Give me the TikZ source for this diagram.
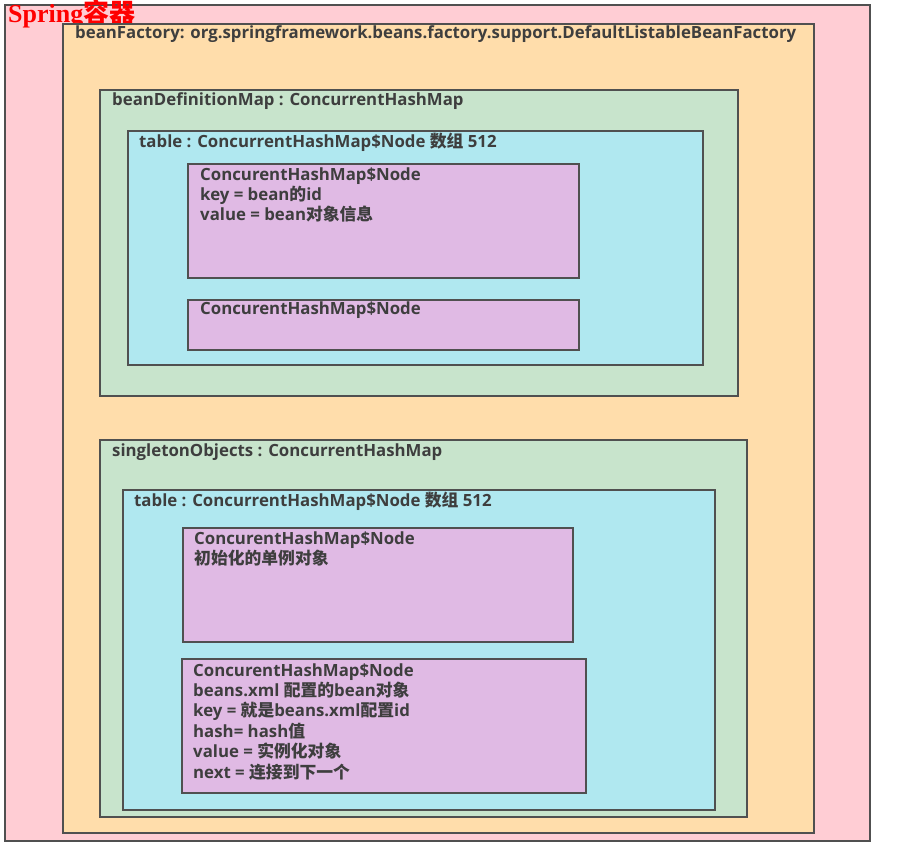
\documentclass[tikz,border=0pt]{standalone}
\usepackage{fontspec}
\setmainfont{Open Sans}
\newfontfamily\cnfont{Noto Sans CJK SC}
\newfontfamily\titlefont{Liberation Serif}
\newcommand{\cn}[1]{{\cnfont #1}}
\usetikzlibrary{positioning}
\definecolor{springpink}{RGB}{255,205,212}
\definecolor{factoryorange}{RGB}{255,221,171}
\definecolor{mapgreen}{RGB}{200,228,204}
\definecolor{tablecyan}{RGB}{176,232,240}
\definecolor{entrypurple}{RGB}{224,186,228}
\definecolor{edgegray}{RGB}{80,80,80}
\definecolor{textgray}{RGB}{62,62,62}
\tikzset{
	box/.style={draw=edgegray, line width=1.8pt, anchor=north west, inner sep=0pt},
	springbox/.style={box, fill=springpink},
	factorybox/.style={box, fill=factoryorange},
	mapbox/.style={box, fill=mapgreen},
	tablebox/.style={box, fill=tablecyan},
	entrybox/.style={box, fill=entrypurple},
	lbl/.style={anchor=base west, inner sep=0pt, align=left, text=textgray,
		font=\fontsize{16.8}{20.4}\selectfont\bfseries},
}

\begin{document}
\begin{tikzpicture}[x=1pt, y=-1pt]
			%%%%% FRAME %%%%%
			\useasboundingbox (0, 0) rectangle (900, 855);
			
			\node[springbox, minimum width=865pt, minimum height=836pt] (spring) at (4, 4) {};
			\node[anchor=base west, inner sep=0pt, text=red, font=\fontsize{26}{26}\selectfont\bfseries] (springtxt) at (8, 22) {{\titlefont Spring}\cn{容器}};
			
			\node[factorybox, minimum width=751pt, minimum height=809pt] (factory) at (62, 23) {};
			\node[lbl] (factorytxt) at ([shift={(13, 15)}]factory.north west) {beanFactory: org.springframework.beans.factory.support.DefaultListableBeanFactory};
			
			%%%%% beanDefinitionMap %%%%%
			\node[mapbox, minimum width=638pt, minimum height=306pt] (defmap) at (99, 89) {};
			\node[lbl] (defmaptxt) at ([shift={(13, 16)}]defmap.north west) {beanDefinitionMap : ConcurrentHashMap};
			
			\node[tablebox, minimum width=575pt, minimum height=234pt] (deftable) at (127, 130) {};
			\node[lbl] (deftabletxt) at ([shift={(12, 17)}]deftable.north west) {table : ConcurrentHashMap\$Node \cn{数组} 512};
			
			% base west = baseline of the last line
			\node[entrybox, minimum width=391pt, minimum height=114pt] (defnodea) at (187, 163) {};
			\node[lbl] (defnodeatxt) at ([shift={(13, 57.8)}]defnodea.north west) {ConcurentHashMap\$Node\\key = bean\cn{的}id\\value = bean\cn{对象信息}};
			
			\node[entrybox, minimum width=391pt, minimum height=50pt] (defnodeb) at (187, 299) {};
			\node[lbl] (defnodebtxt) at ([shift={(13, 15)}]defnodeb.north west) {ConcurentHashMap\$Node};
			
			%%%%% singletonObjects %%%%%
			\node[mapbox, minimum width=647pt, minimum height=377pt] (singlemap) at (99, 439) {};
			\node[lbl] (singlemaptxt) at ([shift={(13, 17)}]singlemap.north west) {singletonObjects : ConcurrentHashMap};
			
			\node[tablebox, minimum width=592pt, minimum height=320pt] (singletable) at (122, 489) {};
			\node[lbl] (singletabletxt) at ([shift={(12, 17)}]singletable.north west) {table : ConcurrentHashMap\$Node \cn{数组} 512};
			
			\node[entrybox, minimum width=390pt, minimum height=114pt] (singlenodea) at (182, 527) {};
			\node[lbl] (singlenodeatxt) at ([shift={(12, 37.4)}]singlenodea.north west) {ConcurentHashMap\$Node\\\cn{初始化的单例对象}};
			
			\node[entrybox, minimum width=404pt, minimum height=134pt] (singlenodeb) at (181, 658) {};
			\node[lbl] (singlenodebtxt) at ([shift={(12, 120)}]singlenodeb.north west) {ConcurentHashMap\$Node\\beans.xml \cn{配置的}bean\cn{对象}\\key = \cn{就是}beans.xml\cn{配置}id\\hash= hash\cn{值}\\value = \cn{实例化对象}\\next = \cn{连接到下一个}};
			
			%%%%% END %%%%%
\end{tikzpicture}
\end{document}
